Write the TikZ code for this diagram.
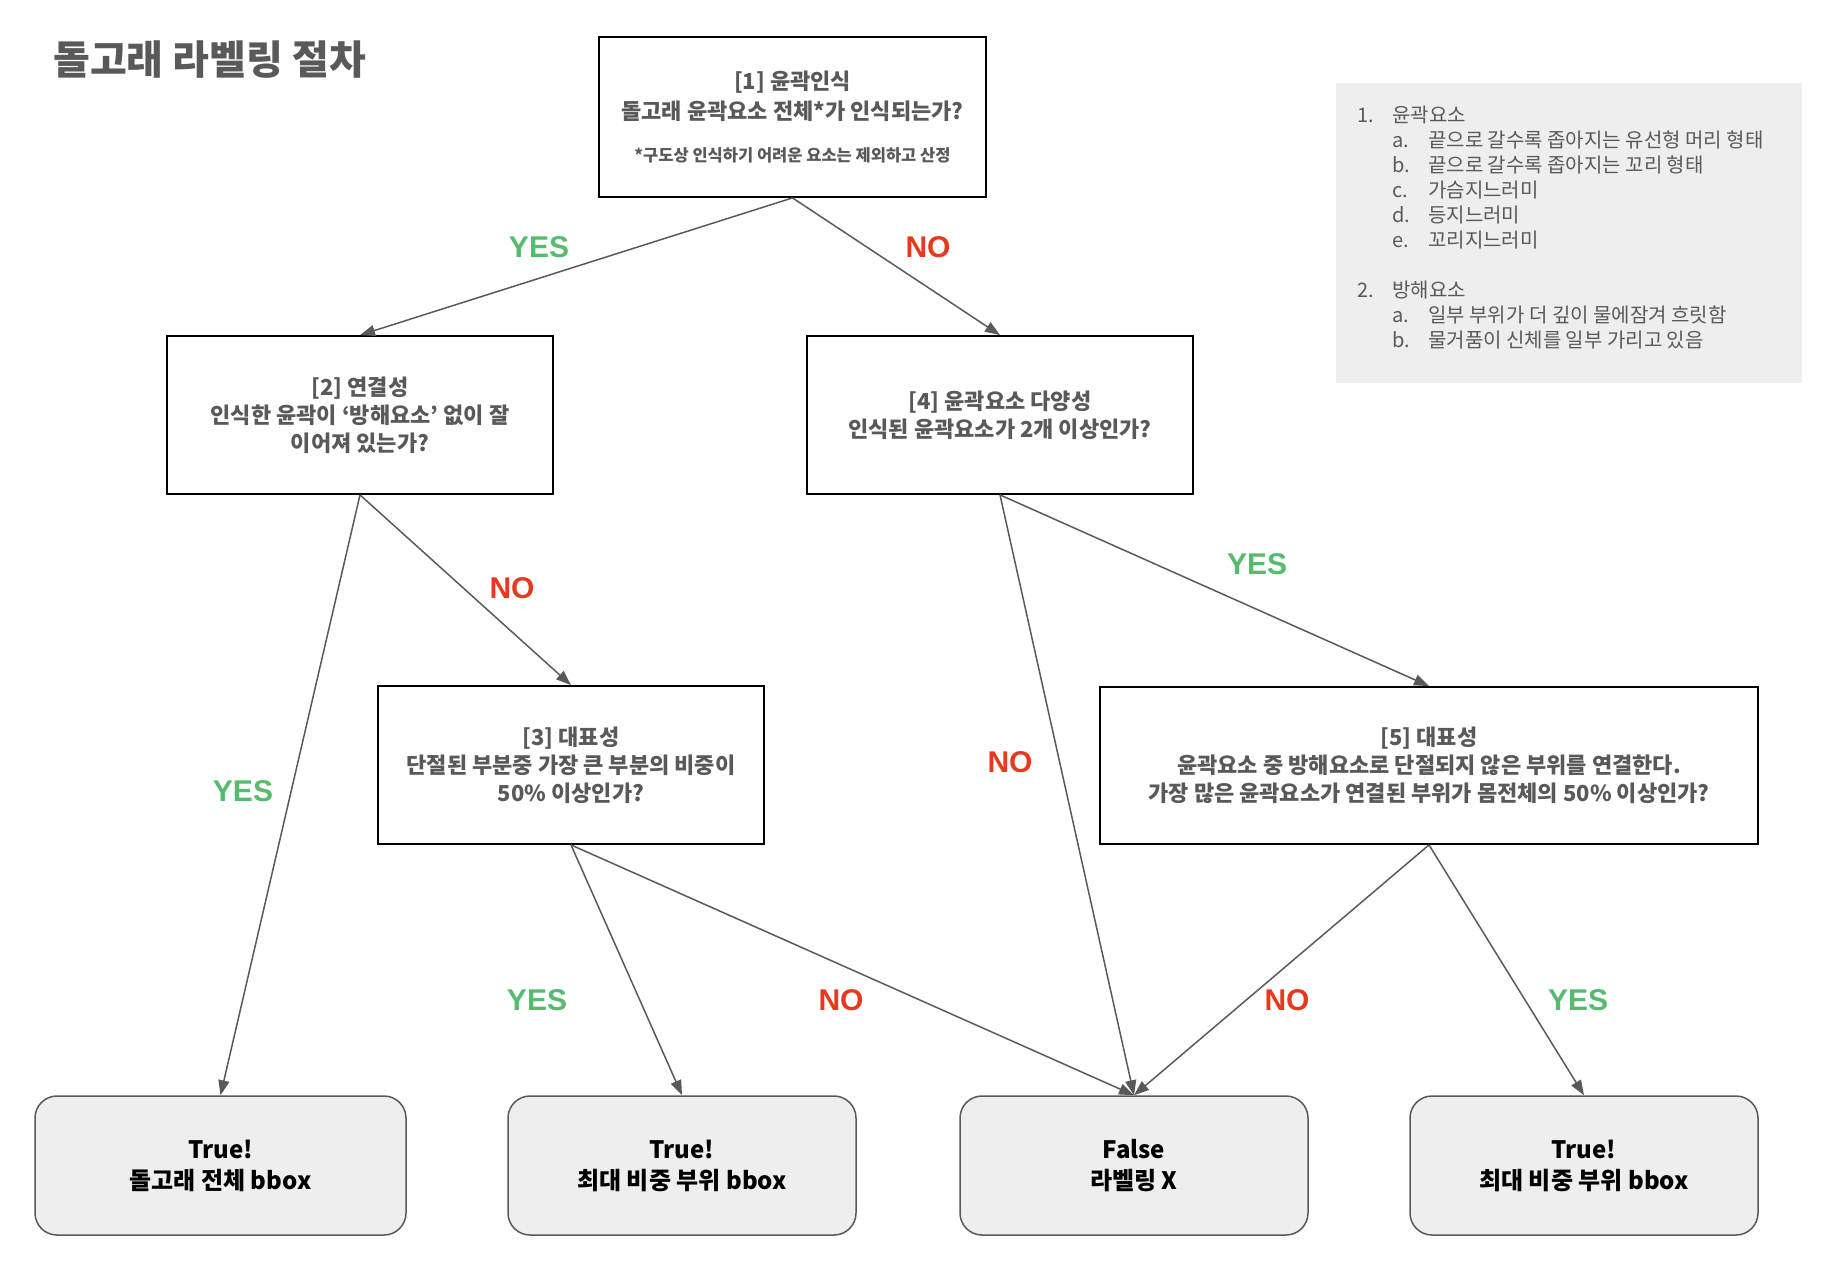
\documentclass[tikz,border=0pt]{standalone}
\usepackage{fontspec}
\setmainfont{Noto Sans CJK KR}
\newfontfamily\labelfont{Liberation Sans}
\usetikzlibrary{arrows.meta}

\definecolor{txtgray}{HTML}{595959}
\definecolor{yesgreen}{HTML}{57BB6E}
\definecolor{nored}{HTML}{E8391E}
\definecolor{boxfill}{HTML}{EEEEEE}

\tikzset{
    question/.style={draw=black, line width=1.8pt, text=txtgray, align=center, inner sep=0pt,
        minimum height=158pt, font=\bfseries\fontsize{22}{28}\selectfont},
    result/.style={draw=txtgray, fill=boxfill, line width=1.5pt, rounded corners=22pt, align=center,
        minimum width=348pt, minimum height=139pt, inner sep=0pt, font=\bfseries\fontsize{24}{31}\selectfont},
    yeslabel/.style={text=yesgreen, font=\labelfont\bfseries\fontsize{30}{30}\selectfont},
    nolabel/.style={text=nored, font=\labelfont\bfseries\fontsize{30}{30}\selectfont},
    flow/.style={draw=txtgray, line width=1.5pt, -{Triangle[length=15pt,width=11pt]}},
    legend/.style={anchor=west, inner sep=0pt, text=txtgray, font=\fontsize{20}{24}\selectfont},
}

\begin{document}
\begin{tikzpicture}[x=1pt, y=-1pt]
    \useasboundingbox (0,0) rectangle (1844,1266);

    \node[anchor=west, inner sep=0pt, text=txtgray, font=\bfseries\fontsize{40}{44}\selectfont] (title) at (53,60) {돌고래 라벨링 절차};

    % questions
    \node[question, minimum width=387pt, minimum height=160pt, font=\bfseries\fontsize{22}{30}\selectfont] (q1) at (792.5,117)
        {[1] 윤곽인식\\ 돌고래 윤곽요소 전체*가 인식되는가?\\[12pt] {\fontsize{16.5}{18}\selectfont *구도상 인식하기 어려운 요소는 제외하고 산정}};
    \node[question, minimum width=386pt] (q2) at (360,415)
        {[2] 연결성\\ 인식한 윤곽이 ‘방해요소’ 없이 잘\\ 이어져 있는가?};
    \node[question, minimum width=386pt] (q4) at (1000,415)
        {[4] 윤곽요소 다양성\\ 인식된 윤곽요소가 2개 이상인가?};
    \node[question, minimum width=386pt] (q3) at (571,765)
        {[3] 대표성\\ 단절된 부분중 가장 큰 부분의 비중이\\ 50\% 이상인가?};
    \node[question, minimum width=658pt, minimum height=157pt] (q5) at (1429,765.5)
        {[5] 대표성\\ 윤곽요소 중 방해요소로 단절되지 않은 부위를 연결한다.\\ 가장 많은 윤곽요소가 연결된 부위가 몸전체의 50\% 이상인가?};

    % results
    \node[result, minimum width=371pt] (ok1) at (220.5,1165.5) {True!\\ 돌고래 전체 bbox};
    \node[result] (ok2) at (682,1165.5) {True!\\ 최대 비중 부위 bbox};
    \node[result] (fail) at (1134,1165.5) {False\\ 라벨링 X};
    \node[result] (ok3) at (1584,1165.5) {True!\\ 최대 비중 부위 bbox};

    % legend
    \fill[boxfill] (1336,83) rectangle (1802,383);
    \node[legend] (l1) at (1357,115) {\makebox[35pt][l]{1.}윤곽요소};
    \node[legend] (l1a) at (1392,140) {\makebox[36pt][l]{a.}끝으로 갈수록 좁아지는 유선형 머리 형태};
    \node[legend] (l1b) at (1392,165) {\makebox[36pt][l]{b.}끝으로 갈수록 좁아지는 꼬리 형태};
    \node[legend] (l1c) at (1392,190) {\makebox[36pt][l]{c.}가슴지느러미};
    \node[legend] (l1d) at (1392,215) {\makebox[36pt][l]{d.}등지느러미};
    \node[legend] (l1e) at (1392,240) {\makebox[36pt][l]{e.}꼬리지느러미};
    \node[legend] (l2) at (1357,290) {\makebox[35pt][l]{2.}방해요소};
    \node[legend] (l2a) at (1392,315) {\makebox[36pt][l]{a.}일부 부위가 더 깊이 물에잠겨 흐릿함};
    \node[legend] (l2b) at (1392,340) {\makebox[36pt][l]{b.}물거품이 신체를 일부 가리고 있음};

    % connectors
    \draw[flow] (q1.south) -- (q2.north);
    \draw[flow] (q1.south) -- (q4.north);
    \draw[flow] (q2.south) -- (ok1.north);
    \draw[flow] (q2.south) -- (q3.north);
    \draw[flow] (q3.south) -- (ok2.north);
    \draw[flow] (q3.south) -- (fail.north);
    \draw[flow] (q4.south) -- (fail.north);
    \draw[flow] (q4.south) -- (q5.north);
    \draw[flow] (q5.south) -- (fail.north);
    \draw[flow] (q5.south) -- (ok3.north);

    % branch labels
    \node[yeslabel] (y12) at (539,247) {YES};
    \node[nolabel] (n14) at (928,247) {NO};
    \node[nolabel] (n23) at (512,588) {NO};
    \node[yeslabel] (y2) at (243,791) {YES};
    \node[yeslabel] (y45) at (1257,564) {YES};
    \node[nolabel] (n4) at (1010,762) {NO};
    \node[yeslabel] (y3) at (537,1000) {YES};
    \node[nolabel] (n3) at (841,1000) {NO};
    \node[nolabel] (n5) at (1287,1000) {NO};
    \node[yeslabel] (y5) at (1578,1000) {YES};
\end{tikzpicture}
\end{document}
